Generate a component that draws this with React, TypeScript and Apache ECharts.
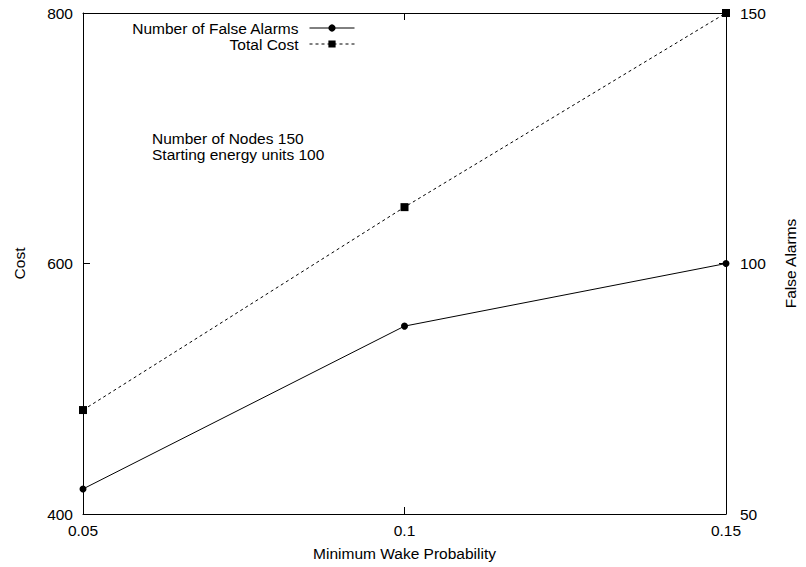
import React, { useEffect, useRef } from "react";
import * as echarts from "echarts";

const wakeProb = [0.05, 0.1, 0.15];
const falseAlarms = [55, 87.5, 100];
const totalCost = [483, 645, 800];
const xTicks = [0.05, 0.1, 0.15];
const costTicks = [400, 600, 800];
const alarmTicks = [50, 100, 150];
const noteLines = ["Number of Nodes 150", "Starting energy units 100"];

const FONT = "'Liberation Sans', Arial, Helvetica, sans-serif";
const FS = 15.5;

export default function App() {
  const ref = useRef<HTMLDivElement>(null);
  useEffect(() => {
    if (!ref.current) return;
    const chart = echarts.init(ref.current, null, { renderer: "svg" });
    const axisCommon = {
      axisLine: { show: true, lineStyle: { color: "#000", width: 1 } },
      axisTick: { show: true, inside: true, length: 7, lineStyle: { color: "#000", width: 1 } },
      splitLine: { show: false },
      nameTextStyle: { color: "#000", fontFamily: FONT, fontSize: FS },
    };
    const labelStyle = { color: "#000", fontFamily: FONT, fontSize: FS };
    chart.setOption({
      animation: false,
      backgroundColor: "#fff",
      textStyle: { fontFamily: FONT },
      grid: { left: 83, right: 73, top: 13, bottom: 53, containLabel: false },
      legend: {
        orient: "vertical",
        align: "right",
        right: 451,
        top: 20,
        padding: 0,
        itemGap: 0,
        itemWidth: 45,
        itemHeight: 9,
        lineStyle: { width: 1 },
        textStyle: { ...labelStyle, padding: [0, 6, 0, 0] },
        data: ["Number of False Alarms", "Total Cost"],
      },
      graphic: [
        {
          type: "text",
          left: 152,
          top: 130,
          style: {
            text: noteLines.join("\n"),
            font: `${FS}px ${FONT}`,
            fill: "#000",
            lineHeight: 16.6,
          },
        },
      ],
      xAxis: [
        {
          type: "value",
          min: xTicks[0],
          max: xTicks[xTicks.length - 1],
          interval: 0.05,
          name: "Minimum Wake Probability",
          nameLocation: "middle",
          nameGap: 31,
          ...axisCommon,
          axisLabel: {
            ...labelStyle,
            margin: 8,
            formatter: (v: number) => String(+v.toFixed(2)),
          },
        },
        {
          type: "value",
          position: "top",
          min: xTicks[0],
          max: xTicks[xTicks.length - 1],
          interval: 0.05,
          ...axisCommon,
          axisLabel: { show: false },
        },
      ],
      yAxis: [
        {
          type: "value",
          min: costTicks[0],
          max: costTicks[costTicks.length - 1],
          interval: 200,
          name: "Cost",
          nameLocation: "middle",
          nameGap: 56,
          ...axisCommon,
          axisLabel: { ...labelStyle, margin: 10 },
        },
        {
          type: "value",
          position: "right",
          min: alarmTicks[0],
          max: alarmTicks[alarmTicks.length - 1],
          interval: 50,
          name: "False Alarms",
          nameLocation: "middle",
          nameGap: 56,
          ...axisCommon,
          axisLabel: { ...labelStyle, margin: 14 },
        },
      ],
      series: [
        {
          name: "Number of False Alarms",
          type: "line",
          yAxisIndex: 1,
          data: wakeProb.map((x, i) => [x, falseAlarms[i]]),
          symbol: "circle",
          symbolSize: 7,
          lineStyle: { color: "#000", width: 1 },
          itemStyle: { color: "#000" },
          clip: false,
        },
        {
          name: "Total Cost",
          type: "line",
          yAxisIndex: 0,
          data: wakeProb.map((x, i) => [x, totalCost[i]]),
          symbol: "rect",
          symbolSize: 8,
          lineStyle: { color: "#000", width: 1, type: [3, 3] },
          itemStyle: { color: "#000" },
          clip: false,
        },
      ],
    });
    return () => chart.dispose();
  }, []);
  return (
    <div
      ref={ref}
      style={{ position: "fixed", left: 0, top: 0, width: 806, height: 567, background: "#fff" }}
    />
  );
}
